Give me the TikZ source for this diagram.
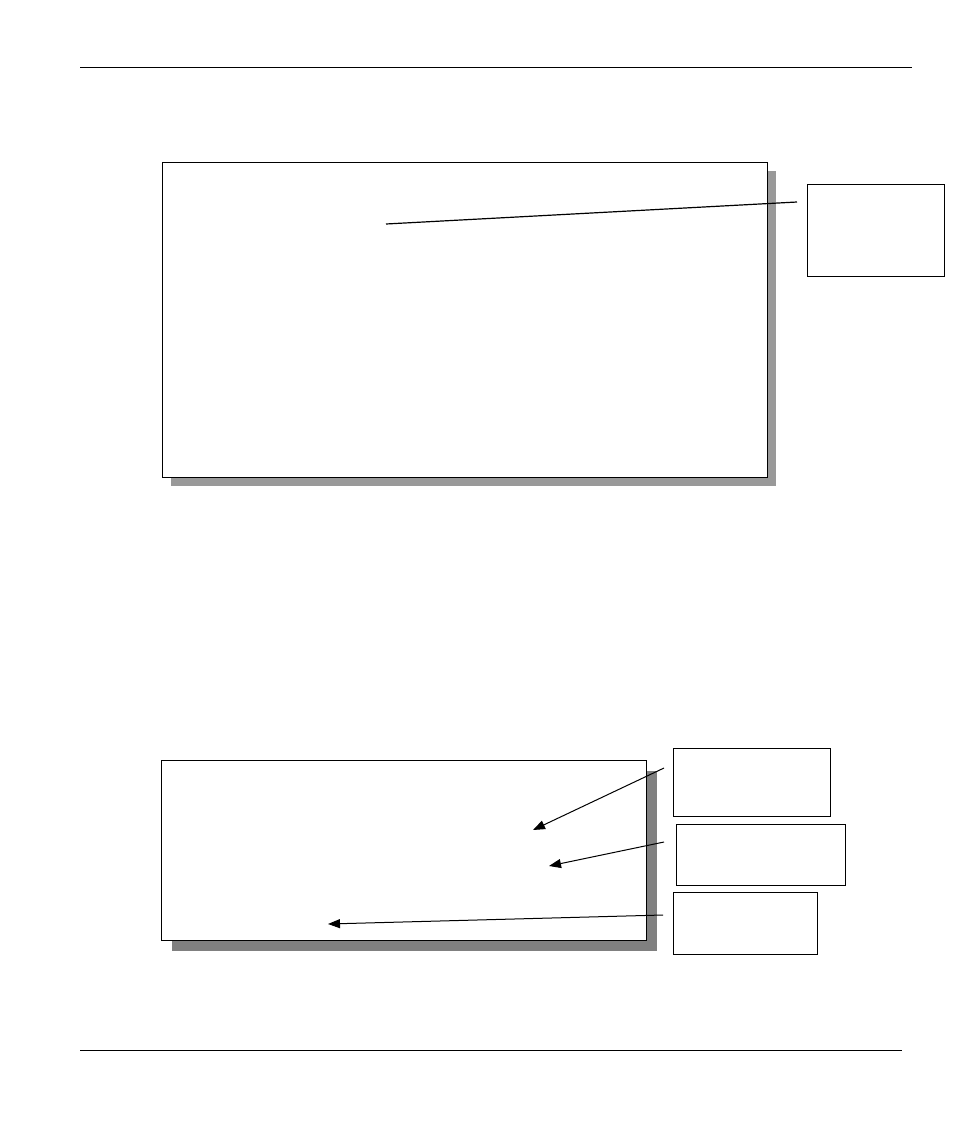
\documentclass[tikz,border=0pt]{standalone}
\usetikzlibrary{arrows.meta}
\begin{document}
\begin{tikzpicture}[x=1pt,y=-1pt,
  panel/.style={draw=black,line width=1.2pt,fill=white,inner sep=0pt,anchor=north west},
  callout/.style={draw=black,line width=1pt,fill=white,inner sep=0pt,anchor=north west},
  shadowA/.style={fill=black!40,draw=none,inner sep=0pt,anchor=north west},
  shadowB/.style={fill=black!50,draw=none,inner sep=0pt,anchor=north west},
  lead/.style={draw=black,line width=1.2pt},
  pointer/.style={draw=black,line width=1pt,-{Triangle[length=12pt,width=9pt]}},
  rulebar/.style={draw=black,line width=0.8pt}]
\useasboundingbox (0,0) rectangle (954,1132);
\fill[white] (0,0) rectangle (954,1132);
% header/footer rules
\coordinate (h1) at (80,67); \coordinate (h2) at (912,67);
\coordinate (f1) at (80,1050); \coordinate (f2) at (902,1050);
\draw[rulebar] (h1) -- (h2);
\draw[rulebar] (f1) -- (f2);
% top panel
\node[shadowA,minimum width=605pt,minimum height=315pt] (topshadow) at (171,171) {};
\node[panel,minimum width=605pt,minimum height=315pt] (toppanel) at (162,162) {};
\node[callout,minimum width=137pt,minimum height=92pt] (topnote) at (807,184) {};
\coordinate (t1) at (797,202);
\coordinate (t2) at (386,224);
\draw[lead] (t1) -- (t2);
% bottom panel
\node[shadowB,minimum width=485pt,minimum height=180pt] (botshadow) at (172,771) {};
\node[panel,minimum width=485pt,minimum height=180pt] (botpanel) at (161,760) {};
\node[callout,minimum width=157pt,minimum height=68pt] (noteA) at (673,748) {};
\node[callout,minimum width=169pt,minimum height=61pt] (noteB) at (676,824) {};
\node[callout,minimum width=144pt,minimum height=62pt] (noteC) at (673,892) {};
\coordinate (a1) at (664,768); \coordinate (a2) at (533,830);
\coordinate (b1) at (664,842); \coordinate (b2) at (549,866);
\coordinate (c1) at (663,915); \coordinate (c2) at (328,924);
\draw[pointer] (a1) -- (a2);
\draw[pointer] (b1) -- (b2);
\draw[pointer] (c1) -- (c2);
\end{tikzpicture}
\end{document}
